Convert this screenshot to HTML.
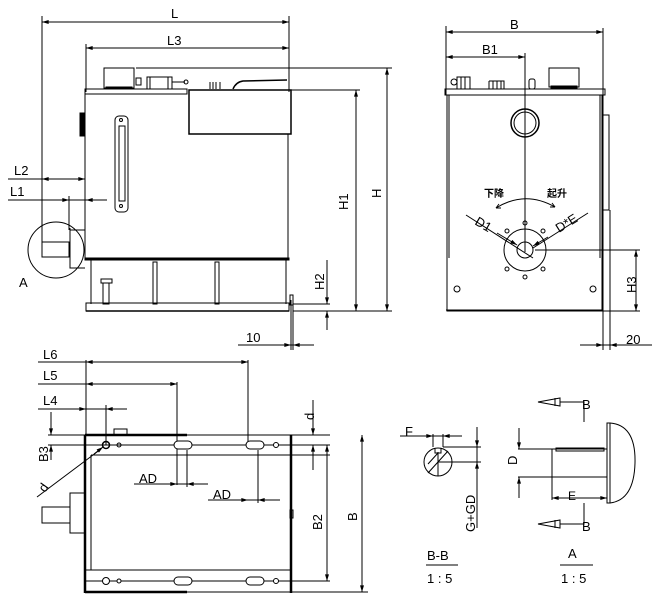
<!DOCTYPE html>
<html><head><meta charset="utf-8"><style>
html,body{margin:0;padding:0;background:#fff}
svg{display:block}
text{font-family:"Liberation Sans","Noto Sans CJK SC",sans-serif;fill:#000}
</style></head><body>
<svg width="658" height="603" viewBox="0 0 658 603" xmlns="http://www.w3.org/2000/svg">
<defs>
<marker id="a" viewBox="0 0 10 6" refX="10" refY="3" markerWidth="8" markerHeight="4" orient="auto-start-reverse" markerUnits="userSpaceOnUse"><path d="M0,0L10,3L0,6z" fill="#000"/></marker>
</defs>
<g stroke="#000" fill="none" stroke-width="1">
<!-- FRONT VIEW -->
<line x1="42" y1="16" x2="42" y2="245"/>
<line x1="289" y1="16" x2="289" y2="92"/>
<line x1="42" y1="22" x2="289" y2="22" marker-start="url(#a)" marker-end="url(#a)"/>
<line x1="86" y1="44" x2="86" y2="92"/>
<line x1="86" y1="48" x2="289" y2="48" marker-start="url(#a)" marker-end="url(#a)"/>
<rect x="104" y="68" width="30" height="20"/>
<rect x="106" y="87" width="26" height="2" fill="#000"/>
<rect x="136" y="78" width="5" height="7"/>
<rect x="147" y="77" width="25" height="12"/>
<line x1="150" y1="77" x2="150" y2="89"/><line x1="168" y1="77" x2="168" y2="89"/>
<line x1="172" y1="82" x2="185" y2="82"/><circle cx="186" cy="82" r="2"/>
<rect x="85" y="89" width="102" height="5"/>
<path d="M210,89V82M213,89V82M216,89V82M220,89V82"/>
<path d="M233,89Q236,82 243,81L287,80" stroke-width="1.5"/>
<rect x="189" y="90" width="102" height="44" stroke-width="1.5"/>
<path d="M85,94V258M288,134V258"/>
<rect x="80" y="113" width="5" height="23" fill="#000"/>
<rect x="115" y="116" width="13" height="96" rx="4"/>
<rect x="119" y="126" width="6" height="75"/>
<circle cx="121" cy="120" r="1.5"/><circle cx="121" cy="206" r="1.5"/>
<rect x="85" y="258" width="204" height="2" fill="#000"/>
<path d="M91,260V304M286,260V304"/>
<rect x="153" y="262" width="4" height="42"/><rect x="215" y="262" width="4" height="42"/>
<rect x="101" y="279" width="11" height="4"/><rect x="103" y="283" width="6" height="21"/>
<rect x="86" y="303" width="203" height="8"/>
<line x1="86" y1="311" x2="289" y2="311" stroke-width="1.5"/>
<path d="M70,228V268H85M70,230H85"/>
<rect x="290" y="295" width="3" height="10"/>
<circle cx="56" cy="250" r="28"/>
<rect x="42" y="242" width="27" height="15"/>
<line x1="8" y1="179" x2="85" y2="179"/>
<line x1="42" y1="179" x2="85" y2="179" marker-start="url(#a)" marker-end="url(#a)"/>
<line x1="8" y1="200" x2="107" y2="200"/>
<line x1="58" y1="200" x2="69" y2="200" marker-end="url(#a)"/>
<line x1="96" y1="200" x2="86" y2="200" marker-end="url(#a)"/>
<line x1="69" y1="196" x2="69" y2="230"/>
<line x1="136" y1="68" x2="392" y2="68"/>
<line x1="291" y1="90" x2="360" y2="90"/>
<line x1="293" y1="311" x2="392" y2="311"/>
<line x1="293" y1="304" x2="330" y2="304"/>
<line x1="387" y1="68" x2="387" y2="311" marker-start="url(#a)" marker-end="url(#a)"/>
<line x1="356" y1="90" x2="356" y2="311" marker-start="url(#a)" marker-end="url(#a)"/>
<line x1="327" y1="260" x2="327" y2="304" marker-end="url(#a)"/>
<line x1="327" y1="330" x2="327" y2="311" marker-end="url(#a)"/>
<line x1="291" y1="300" x2="291" y2="350"/><line x1="293" y1="305" x2="293" y2="350"/>
<line x1="238" y1="345" x2="314" y2="345"/>
<line x1="278" y1="345" x2="291" y2="345" marker-end="url(#a)"/>
<line x1="306" y1="345" x2="293" y2="345" marker-end="url(#a)"/>
<!-- SIDE VIEW -->
<line x1="446" y1="26" x2="446" y2="95"/>
<line x1="603" y1="28" x2="603" y2="350"/>
<line x1="610" y1="210" x2="610" y2="350"/>
<line x1="446" y1="32" x2="603" y2="32" marker-start="url(#a)" marker-end="url(#a)"/>
<line x1="446" y1="57" x2="525" y2="57" marker-start="url(#a)" marker-end="url(#a)"/>
<line x1="525" y1="53" x2="525" y2="252"/>
<rect x="445" y="89" width="160" height="6"/>
<rect x="447" y="95" width="155" height="216"/>
<path d="M449,95V258M600,95V258"/>
<line x1="446" y1="310" x2="603" y2="310"/>
<rect x="603" y="115" width="6" height="95"/>
<rect x="457" y="77" width="13" height="12"/><circle cx="454" cy="82" r="3"/>
<path d="M461,77V89M465,77V89"/>
<path d="M489,81H504V89M489,81V89M493,81V89M497,81V89M501,81V89"/>
<rect x="529" y="79" width="6" height="10" rx="2"/>
<rect x="549" y="68" width="30" height="19"/><rect x="551" y="86" width="26" height="3" fill="#000"/>
<circle cx="525" cy="123" r="14" stroke-width="1.5"/><circle cx="525" cy="123" r="11"/>
<path d="M496,208Q525,190 555,207"/>
<path d="M496,208l5,0M496,208l3,-4M555,207l-5,0M555,207l-3,-4"/>
<circle cx="525" cy="250" r="21"/><circle cx="525" cy="250" r="8"/>
<circle cx="525" cy="223" r="2"/><circle cx="525" cy="277" r="2"/>
<circle cx="507" cy="231" r="2"/><circle cx="543" cy="231" r="2"/>
<circle cx="507" cy="269" r="2"/><circle cx="543" cy="269" r="2"/>
<circle cx="457" cy="289" r="3"/><circle cx="593" cy="289" r="3"/>
<line x1="466" y1="215" x2="533" y2="258"/>
<line x1="497" y1="233" x2="517" y2="245" marker-end="url(#a)"/>
<line x1="588" y1="213" x2="533" y2="248"/>
<line x1="548" y1="237" x2="533" y2="246" marker-end="url(#a)"/>
<line x1="535" y1="250" x2="640" y2="250"/>
<line x1="603" y1="311" x2="640" y2="311"/>
<line x1="636" y1="250" x2="636" y2="311" marker-start="url(#a)" marker-end="url(#a)"/>
<line x1="580" y1="345" x2="652" y2="345"/>
<line x1="592" y1="345" x2="603" y2="345" marker-end="url(#a)"/>
<line x1="621" y1="345" x2="610" y2="345" marker-end="url(#a)"/>
<!-- BOTTOM VIEW -->
<line x1="38" y1="362" x2="86" y2="362"/>
<line x1="86" y1="362" x2="248" y2="362" marker-start="url(#a)" marker-end="url(#a)"/>
<line x1="248" y1="360" x2="248" y2="445"/>
<line x1="38" y1="384" x2="86" y2="384"/>
<line x1="86" y1="384" x2="177" y2="384" marker-start="url(#a)" marker-end="url(#a)"/>
<line x1="177" y1="382" x2="177" y2="485"/>
<line x1="38" y1="409" x2="127" y2="409"/>
<line x1="73" y1="409" x2="86" y2="409" marker-end="url(#a)"/>
<line x1="118" y1="409" x2="106" y2="409" marker-end="url(#a)"/>
<line x1="106" y1="405" x2="106" y2="445"/>
<line x1="86" y1="360" x2="86" y2="436"/>
<path d="M85,435H187" stroke-width="2.5"/>
<path d="M187,435H330"/>
<path d="M85,435V593M291,435V593" stroke-width="2.5"/>
<path d="M85,592H187" stroke-width="2.5"/><path d="M187,592H291"/>
<rect x="114" y="429" width="13" height="6"/>
<line x1="48" y1="445" x2="330" y2="445"/>
<line x1="91" y1="455" x2="291" y2="455"/>
<line x1="91" y1="455" x2="91" y2="570"/>
<line x1="85" y1="570" x2="291" y2="570"/>
<line x1="85" y1="581" x2="330" y2="581"/>
<circle cx="106" cy="445" r="3.5" stroke-width="1.5"/><circle cx="119" cy="445" r="2"/>
<rect x="174" y="441" width="18" height="8" rx="4" fill="#fff"/>
<rect x="246" y="441" width="18" height="8" rx="4" fill="#fff"/>
<circle cx="276" cy="445" r="2.5" fill="#fff"/>
<circle cx="106" cy="581" r="3.5" fill="#fff"/><circle cx="119" cy="581" r="2" fill="#fff"/>
<rect x="174" y="577" width="18" height="8" rx="4" fill="#fff"/>
<rect x="246" y="577" width="18" height="8" rx="4" fill="#fff"/>
<circle cx="276" cy="581" r="2.5" fill="#fff"/>
<line x1="187" y1="450" x2="187" y2="487"/>
<line x1="258" y1="450" x2="258" y2="503"/>
<line x1="134" y1="484" x2="208" y2="484"/>
<line x1="165" y1="484" x2="177" y2="484" marker-end="url(#a)"/>
<line x1="198" y1="484" x2="187" y2="484" marker-end="url(#a)"/>
<line x1="208" y1="500" x2="280" y2="500"/>
<line x1="237" y1="500" x2="248" y2="500" marker-end="url(#a)"/>
<line x1="270" y1="500" x2="258" y2="500" marker-end="url(#a)"/>
<rect x="70" y="493" width="15" height="40"/>
<rect x="42" y="507" width="28" height="16"/>
<line x1="37" y1="497" x2="101" y2="449"/>
<line x1="94" y1="454" x2="103" y2="447" marker-end="url(#a)"/>
<rect x="290" y="510" width="3" height="8"/>
<line x1="291" y1="455" x2="330" y2="455"/>
<line x1="291" y1="592" x2="368" y2="592"/>
<line x1="313" y1="400" x2="313" y2="435" marker-end="url(#a)"/>
<line x1="313" y1="470" x2="313" y2="445" marker-end="url(#a)"/>
<line x1="327" y1="445" x2="327" y2="581" marker-start="url(#a)" marker-end="url(#a)"/>
<line x1="362" y1="435" x2="362" y2="592" marker-start="url(#a)" marker-end="url(#a)"/>
<line x1="51" y1="412" x2="51" y2="435" marker-end="url(#a)"/>
<line x1="51" y1="460" x2="51" y2="445" marker-end="url(#a)"/>
<line x1="48" y1="435" x2="85" y2="435"/>
<!-- DETAIL B-B -->
<circle cx="438" cy="462" r="14"/>
<path d="M435,448V453H441V448"/>
<line x1="428" y1="473" x2="448" y2="451"/>
<line x1="428" y1="464" x2="438" y2="453"/>
<line x1="438" y1="452" x2="438" y2="476"/>
<line x1="400" y1="436" x2="462" y2="436"/>
<line x1="421" y1="436" x2="433" y2="436" marker-end="url(#a)"/>
<line x1="452" y1="436" x2="443" y2="436" marker-end="url(#a)"/>
<path d="M433,434V447M443,434V447"/>
<line x1="443" y1="447" x2="481" y2="447"/>
<line x1="438" y1="462" x2="481" y2="462"/>
<line x1="477" y1="427" x2="477" y2="528"/>
<line x1="477" y1="430" x2="477" y2="447" marker-end="url(#a)"/>
<line x1="477" y1="478" x2="477" y2="462" marker-end="url(#a)"/>
<line x1="426" y1="565" x2="458" y2="565"/>
<!-- DETAIL A -->
<path d="M538,402L560,398V406Z"/>
<path d="M555,398V406"/>
<path d="M560,402H584V422"/>
<path d="M538,524L560,520V528Z"/>
<path d="M555,520V528"/>
<path d="M584,503V524H560"/>
<line x1="552" y1="449" x2="552" y2="500"/>
<line x1="518" y1="449" x2="607" y2="449"/>
<line x1="518" y1="477" x2="607" y2="477"/>
<rect x="556" y="448" width="48" height="3"/>
<line x1="519" y1="428" x2="519" y2="449" marker-end="url(#a)"/>
<line x1="519" y1="498" x2="519" y2="477" marker-end="url(#a)"/>
<rect x="607" y="423" width="3" height="80"/>
<path d="M610,423Q636,425 635,463Q634,500 610,503"/>
<line x1="552" y1="498" x2="607" y2="498" marker-start="url(#a)" marker-end="url(#a)"/>
<line x1="560" y1="565" x2="593" y2="565"/>
</g>
<g font-size="13">
<text x="171" y="18">L</text>
<text x="167" y="45">L3</text>
<text x="14" y="175">L2</text>
<text x="10" y="196">L1</text>
<text x="19" y="287">A</text>
<text x="246" y="342">10</text>
<text x="510" y="29">B</text>
<text x="482" y="54">B1</text>
<text x="626" y="344">20</text>
<text x="43" y="359">L6</text>
<text x="43" y="380">L5</text>
<text x="43" y="405">L4</text>
<text x="139" y="483">AD</text>
<text x="213" y="499">AD</text>
<text x="405" y="436">F</text>
<text x="582" y="409">B</text>
<text x="582" y="531">B</text>
<text x="568" y="500" font-size="12">E</text>
<text x="427" y="560">B-B</text>
<text x="427" y="583" fill="#555">1 : 5</text>
<text x="568" y="558">A</text>
<text x="561" y="583" fill="#555">1 : 5</text>
<text transform="translate(348,210) rotate(-90)">H1</text>
<text transform="translate(381,198) rotate(-90)">H</text>
<text transform="translate(324,290) rotate(-90)">H2</text>
<text transform="translate(636,293) rotate(-90)">H3</text>
<text transform="translate(322,530) rotate(-90)">B2</text>
<text transform="translate(357,521) rotate(-90)">B</text>
<text transform="translate(314,420) rotate(-90)">d</text>
<text transform="translate(48,462) rotate(-90)">B3</text>
<text transform="translate(45,493) rotate(-55)">d</text>
<text transform="translate(475,532) rotate(-90)">G+GD</text>
<text transform="translate(517,465) rotate(-90)">D</text>
<text transform="translate(474,224) rotate(30)">D1</text>
<text transform="translate(559,233) rotate(-32)">D*E</text>
<text x="484" y="197" font-size="10" font-weight="bold">下降</text>
<text x="547" y="197" font-size="10" font-weight="bold">起升</text>
</g>
</svg>
</body></html>
